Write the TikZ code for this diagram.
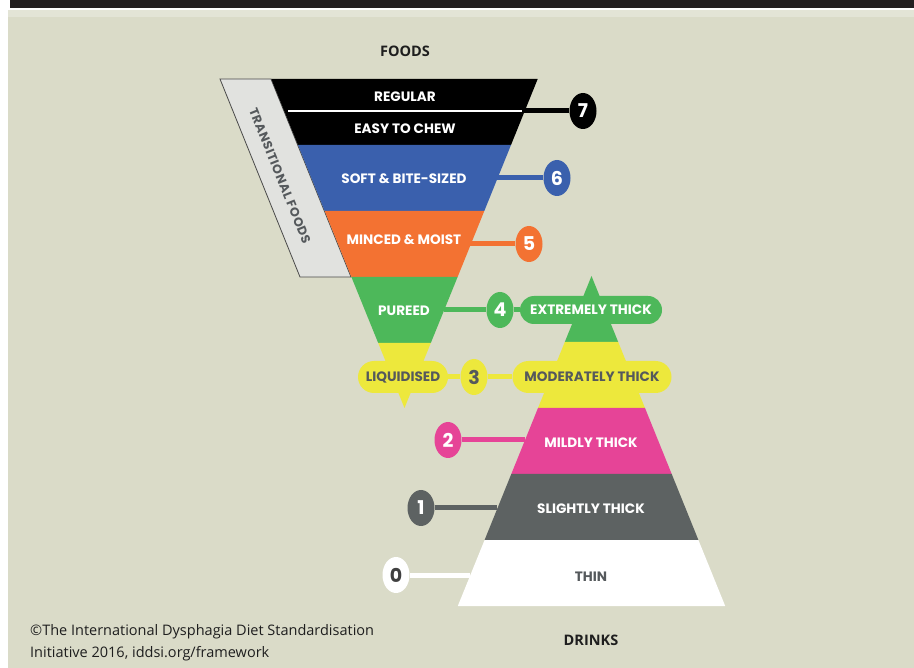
\documentclass[tikz,border=0pt]{standalone}
\usepackage{fontspec}
\setmainfont{Poppins}
\newfontfamily\transfont[LetterSpace=4]{Poppins}
\newfontfamily\capfont{Open Sans}
\newfontfamily\headfont{Open Sans}
\usetikzlibrary{shapes.geometric}
\definecolor{bg}{HTML}{DADBC8}
\definecolor{bgl}{HTML}{E3E4D6}
\definecolor{topbar}{HTML}{231F20}
\definecolor{transgray}{HTML}{E1E2DF}
\definecolor{transedge}{HTML}{4A4A4A}
\definecolor{fblue}{HTML}{3A60AD}
\definecolor{forange}{HTML}{F37232}
\definecolor{fgreen}{HTML}{4DB85A}
\definecolor{fyellow}{HTML}{EDE83C}
\definecolor{dpink}{HTML}{E64497}
\definecolor{dgray}{HTML}{5D6262}
\definecolor{txtgray}{HTML}{55595C}
\definecolor{headtxt}{HTML}{1E1E1E}
\pgfdeclarelayer{back}
\pgfdeclarelayer{mid}
\pgfsetlayers{back,mid,main}
\begin{document}
\begin{tikzpicture}[x=1pt,y=-1pt,
  lbl/.style={inner sep=0pt, text=white, font=\bfseries\fontsize{13.6}{15}\selectfont},
  num/.style={ellipse, inner sep=0pt, minimum width=27pt, minimum height=36pt, text=white, font=\bfseries\fontsize{19}{20}\selectfont},
  pill/.style={rounded corners=15pt, minimum height=30pt, inner sep=0pt, text=white, font=\bfseries\fontsize{13.6}{15}\selectfont},
  conn/.style={line width=5pt},
  head/.style={inner sep=0pt, text=headtxt, font=\headfont\bfseries\fontsize{14.5}{16}\selectfont},
  captxt/.style={inner sep=0pt, anchor=west, text=headtxt, font=\capfont\fontsize{14.5}{17}\selectfont}]
\useasboundingbox (0,0) rectangle (914,668);
\begin{pgfonlayer}{back}
\fill[white] (0,0) rectangle (914,668);
\fill[bg] (8,10) rectangle (914,668);
\fill[bgl] (8,10) rectangle (914,17);
\fill[topbar] (10,0) rectangle (914,8);
% transitional foods
\filldraw[fill=transgray, draw=transedge, line width=0.8pt] (220,79) -- (271,79) -- (351,277) -- (300,277) -- cycle;
% foods funnel
\fill[black] (271.3,79) -- (537.7,79) -- (511.0,145) -- (298.0,145) -- cycle;
\fill[fblue] (298.0,145) -- (511.0,145) -- (484.3,211) -- (324.7,211) -- cycle;
\fill[forange] (324.7,211) -- (484.3,211) -- (457.6,277) -- (351.4,277) -- cycle;
\fill[fgreen] (351.4,277) -- (457.6,277) -- (430.8,343) -- (378.2,343) -- cycle;
\fill[fyellow] (378.2,343) -- (430.8,343) -- (404.5,408) -- cycle;
\draw[white, line width=1.5pt] (288,111) -- (522,111);
% drinks pyramid
\fill[fgreen] (591.5,276) -- (618.2,342) -- (564.8,342) -- cycle;
\fill[fyellow] (564.8,342) -- (618.2,342) -- (645,408) -- (538,408) -- cycle;
\fill[dpink] (538,408) -- (645,408) -- (671.7,474) -- (511.3,474) -- cycle;
\fill[dgray] (511.3,474) -- (671.7,474) -- (698.4,540) -- (484.6,540) -- cycle;
\fill[white] (484.6,540) -- (698.4,540) -- (725.2,606) -- (457.8,606) -- cycle;
\end{pgfonlayer}
% connector ends on the shapes
\coordinate (e7) at (524,111);
\coordinate (e6) at (497,178);
\coordinate (e5) at (470,244);
\coordinate (e4) at (444,310);
\coordinate (e2) at (525,440);
\coordinate (e1) at (497,508);
\coordinate (e0) at (470,575);
% headings
\node[head] (foods) at (405,51) {FOODS};
\node[head] (drinks) at (591,640) {DRINKS};
\node[captxt] (cap1) at (30,632) {©The International Dysphagia Diet Standardisation};
\node[captxt] (cap2) at (30,654) {Initiative 2016, iddsi.org/framework};
% food labels
\node[lbl] (regular) at (405,97) {REGULAR};
\node[lbl] (easy) at (405,129) {EASY TO CHEW};
\node[lbl] (soft) at (404,179) {SOFT \& BITE-SIZED};
\node[lbl] (minced) at (404,240) {MINCED \& MOIST};
\node[lbl] (pureed) at (404,311) {PUREED};
\node[inner sep=0pt, text=txtgray, font=\transfont\bfseries\fontsize{12.5}{14}\selectfont, rotate=-68] (trans) at (280,176) {TRANSITIONAL FOODS};
% pills
\node[pill, fill=fgreen, minimum width=142pt, minimum height=28pt, rounded corners=14pt] (et) at (591,310) {EXTREMELY THICK};
\node[pill, fill=fyellow, text=txtgray, minimum width=90pt, minimum height=32pt, rounded corners=16pt] (liq) at (403,377) {LIQUIDISED};
\node[pill, fill=fyellow, text=txtgray, minimum width=159pt, minimum height=32pt, rounded corners=16pt] (mt) at (592,377) {MODERATELY THICK};
% drink labels
\node[lbl] (mild) at (591,443) {MILDLY THICK};
\node[lbl] (slight) at (591,509) {SLIGHTLY THICK};
\node[lbl, text=txtgray] (thin) at (591,577) {THIN};
% number circles
\node[num, fill=black] (n7) at (583,111) {7};
\node[num, fill=fblue] (n6) at (557,178) {6};
\node[num, fill=forange] (n5) at (529,244) {5};
\node[num, fill=fgreen] (n4) at (500,310) {4};
\node[num, fill=fyellow, text=txtgray] (n3) at (474,377) {3};
\node[num, fill=dpink] (n2) at (448,440) {2};
\node[num, fill=dgray] (n1) at (421,508) {1};
\node[num, fill=white, text=headtxt!85] (n0) at (396,575) {0};
% connectors
\begin{pgfonlayer}{mid}
\draw[conn, black] (n7) -- (e7);
\draw[conn, fblue] (n6) -- (e6);
\draw[conn, forange] (n5) -- (e5);
\draw[conn, fgreen] (n4) -- (e4);
\draw[conn, fgreen] (n4) -- (et);
\draw[conn, fyellow] (liq) -- (n3);
\draw[conn, fyellow] (n3) -- (mt);
\draw[conn, dpink] (n2) -- (e2);
\draw[conn, dgray] (n1) -- (e1);
\draw[conn, white] (n0) -- (e0);
\end{pgfonlayer}
\end{tikzpicture}
\end{document}
